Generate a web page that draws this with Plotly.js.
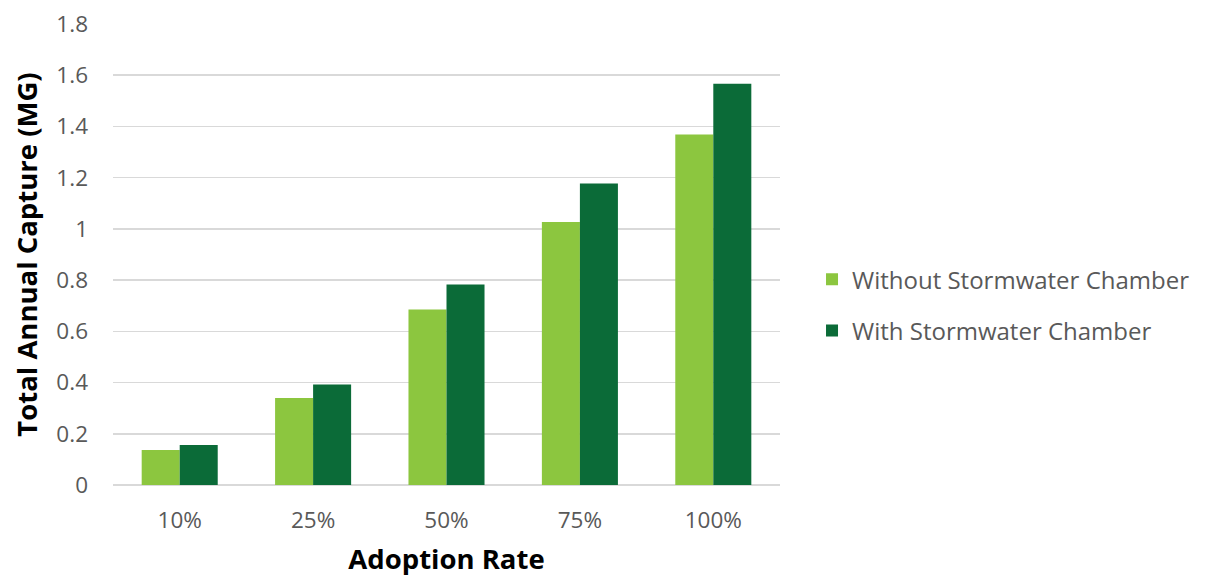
<!DOCTYPE html>
<html>
<head>
<meta charset="utf-8">
<script src="https://cdn.plot.ly/plotly-3.0.1.min.js"></script>
<style>html,body{margin:0;padding:0;background:#fff;}#chart{width:1215px;height:582px;}</style>
</head>
<body>
<div id="chart"></div>
<script>
const categories = ["10%", "25%", "50%", "75%", "100%"];
const withoutChamber = [0.137, 0.340, 0.685, 1.027, 1.369];
const withChamber = [0.156, 0.392, 0.783, 1.177, 1.567];
const seriesNames = ["Without Stormwater Chamber", "With Stormwater Chamber"];
const yTicks = [0, 0.2, 0.4, 0.6, 0.8, 1, 1.2, 1.4, 1.6, 1.8];
const yTickText = ["0", "0.2", "0.4", "0.6", "0.8", "1", "1.2", "1.4", "1.6", "1.8"];

const font = "Open Sans, Noto Sans, sans-serif";
const data = [
  {type: "bar", x: categories, y: withoutChamber, name: seriesNames[0], legendgroup: "a",
   marker: {color: "#8cc63f"}, hoverinfo: "skip"},
  {type: "bar", x: categories, y: withChamber, name: seriesNames[1], legendgroup: "b",
   marker: {color: "#0b6b38"}, hoverinfo: "skip"}
];
const layout = {
  width: 1215, height: 582,
  margin: {l: 113, r: 435, t: 24, b: 97},
  paper_bgcolor: "#fff", plot_bgcolor: "#fff",
  barmode: "group", bargap: 0.43, bargroupgap: 0,
  font: {family: font, color: "#595959"},
  xaxis: {
    type: "category",
    showgrid: false, showline: false, zeroline: false, ticks: "",
    tickfont: {size: 22.5, color: "#595959"},
    ticklabelstandoff: 19,
    title: {text: "Adoption Rate", font: {size: 27.5, color: "#000", family: font, weight: "bold"}, standoff: 16}
  },
  yaxis: {
    range: [0, 1.8], tickvals: yTicks, ticktext: yTickText,
    showgrid: true, gridcolor: "#d9d9d9", gridwidth: 1.5, zeroline: true, zerolinecolor: "#d9d9d9", zerolinewidth: 1.5,
    showline: false, ticks: "", ticklen: 0,
    tickfont: {size: 22.5, color: "#595959"},
    ticklabelstandoff: 24,
    title: {text: "Total Annual Capture (MG)", font: {size: 27.5, color: "#000", family: font, weight: "bold"}, standoff: 10}
  },
  legend: {
    x: 1.048, xanchor: "left", y: 0.39, yanchor: "middle",
    font: {size: 24, color: "#595959", family: font},
    traceorder: "grouped", tracegroupgap: 17,
    itemwidth: 30, bgcolor: "rgba(0,0,0,0)"
  },
  showlegend: true
};
Plotly.newPlot("chart", data, layout, {displayModeBar: false, staticPlot: true});
</script>
</body>
</html>
